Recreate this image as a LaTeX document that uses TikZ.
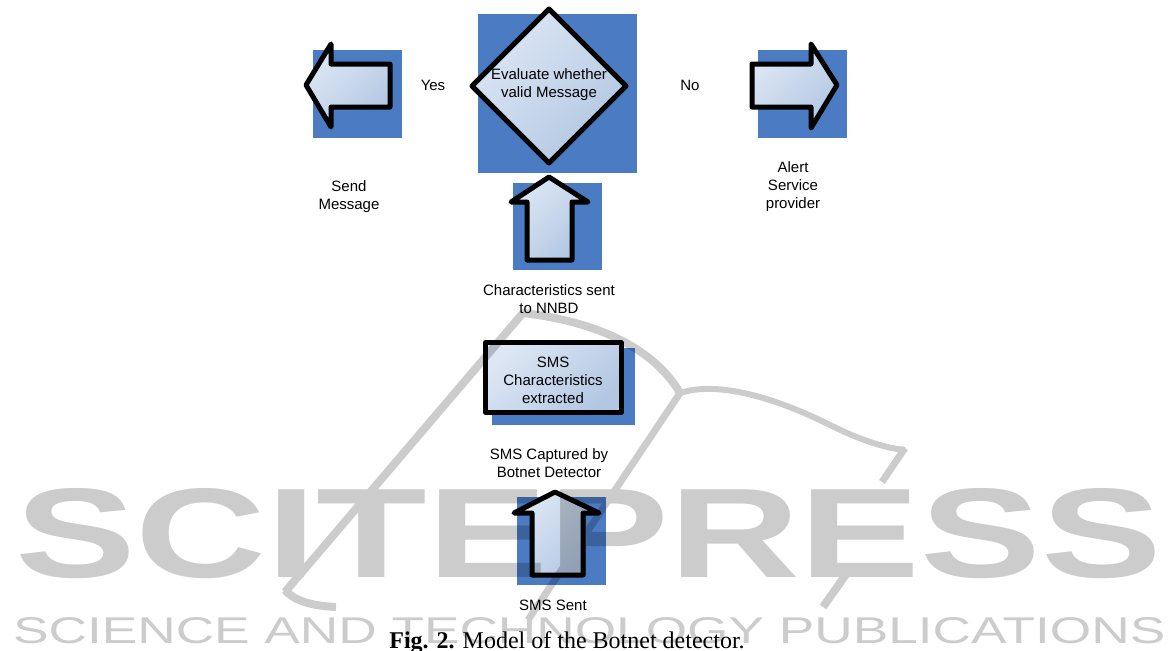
\documentclass[tikz,border=0pt]{standalone}
\usepackage{fontspec}
\setmainfont{Liberation Serif}
\setsansfont{Liberation Sans}
\definecolor{boxblue}{HTML}{4A7BC3}
\definecolor{fillA}{HTML}{DDE7F4}
\definecolor{fillB}{HTML}{B3C7E3}
\begin{document}
\begin{tikzpicture}[x=1pt,y=-1pt,
  bluesq/.style={fill=boxblue,draw=none},
  shp/.style={draw=black,line width=5pt,line join=round,top color=fillA,bottom color=fillB,shading angle=45},
  lbl/.style={font=\sffamily\fontsize{15}{18}\selectfont,align=center,inner sep=0pt},
  wmline/.style={draw=black,line cap=butt,line join=round}]
\useasboundingbox[fill=white] (0,0) rectangle (1171,651);

% --- left arrow (Yes) ---
\fill[bluesq] (313,50) rectangle (402,138);
\path[shp] (306,85) -- (331,44) -- (331,64) -- (390,64) -- (390,107) -- (331,107) -- (331,127) -- cycle;

% --- decision diamond ---
\fill[bluesq] (478,14) rectangle (637,173);
\path[shp] (549,9) -- (626,86) -- (549,163) -- (472,86) -- cycle;
\node[lbl] (evaltext) at (549,85) {Evaluate whether\\valid Message};

% --- right arrow (No) ---
\fill[bluesq] (758,50) rectangle (847,138);
\path[shp] (837,85) -- (811,44) -- (811,64) -- (752,64) -- (752,107) -- (811,107) -- (811,128) -- cycle;

% --- up arrow (characteristics sent) ---
\fill[bluesq] (513,183) rectangle (602,270);
\path[shp] (549,177) -- (588,202) -- (572,202) -- (572,260) -- (527,260) -- (527,202) -- (511,202) -- cycle;

% --- SMS characteristics box ---
\fill[bluesq] (492,348) rectangle (635,425);
\node[shp,lbl,minimum width=135.5pt,minimum height=70pt] (smsbox) at (553.25,377.5) {};
\node[lbl] (smstext) at (553,380.5) {SMS\\Characteristics\\extracted};

% --- up arrow (SMS sent) ---
\fill[bluesq] (517,497) rectangle (606,585);
\path[shp] (555,492) -- (599,513) -- (583,513) -- (583,575) -- (532,575) -- (532,513) -- (514,513) -- cycle;

% --- labels ---
\node[lbl] (yes) at (433,85) {Yes};
\node[lbl] (no) at (690,85) {No};
\node[lbl] (send) at (349,197) {Send\\Message};
\node[lbl] (alert) at (793,187) {Alert\\Service\\provider};
\node[lbl] (chars) at (549,299) {Characteristics sent\\to NNBD};
\node[lbl] (capt) at (549,463) {SMS Captured by\\Botnet Detector};
\node[lbl] (sent) at (553,605) {SMS Sent};

\node[anchor=base,inner sep=0pt] (caption) at (567,648) {\fontsize{24}{28}\selectfont\textbf{Fig. 2.} Model of the Botnet detector.};

% --- watermark ---
\begin{scope}[transparency group,opacity=0.2]
  \node[anchor=base west,inner sep=0pt] (wm1) at (15,577) {\resizebox{1145pt}{89pt}{\sffamily\bfseries SCITEPRESS}};
  \node[anchor=base west,inner sep=0pt] (wm2) at (13,643) {\resizebox{1152pt}{26pt}{\sffamily SCIENCE AND TECHNOLOGY PUBLICATIONS}};
  \draw[wmline,line width=8pt] (285,592) -- (523,313) .. controls (600,322) and (655,350) .. (680,393);
  \draw[wmline,line width=8pt] (285,590) .. controls (295,602) and (315,606) .. (336,607);
  \draw[wmline,line width=7pt] (680,393) -- (528,620);
  \draw[wmline,line width=6pt] (680,393) .. controls (720,380) and (780,400) .. (830,425) .. controls (860,440) and (885,448) .. (905,450);
  \draw[wmline,line width=7pt] (905,448) -- (882,482);
  \draw[wmline,line width=8pt] (847,573) -- (823,607);
\end{scope}
\end{tikzpicture}
\end{document}
